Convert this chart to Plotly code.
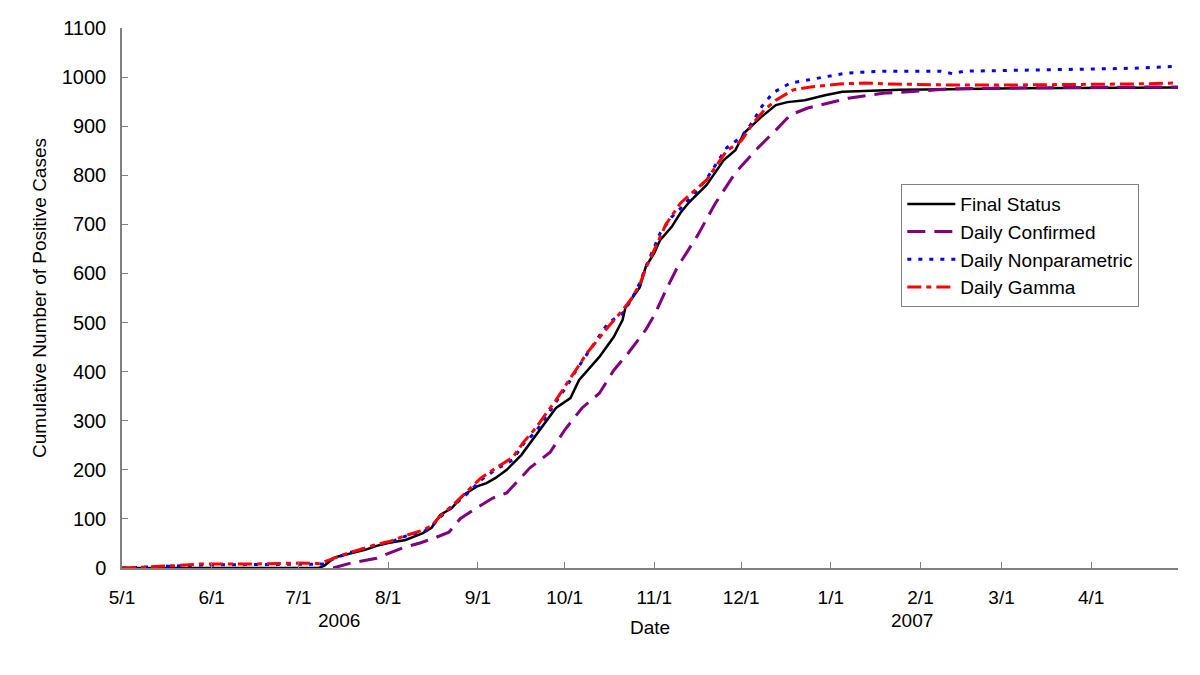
import plotly.graph_objects as go

# Final Status
final_dates = ["2006-05-01", "2006-07-08", "2006-07-10", "2006-07-13", "2006-07-15", "2006-07-19",
               "2006-07-24", "2006-07-28", "2006-08-01", "2006-08-07", "2006-08-13", "2006-08-16",
               "2006-08-19", "2006-08-23", "2006-08-27", "2006-09-01", "2006-09-04", "2006-09-07",
               "2006-09-11", "2006-09-16", "2006-09-21", "2006-09-26", "2006-09-28", "2006-10-03",
               "2006-10-06", "2006-10-13", "2006-10-18", "2006-10-21", "2006-10-22", "2006-10-27",
               "2006-10-29", "2006-11-01", "2006-11-03", "2006-11-07", "2006-11-10", "2006-11-13",
               "2006-11-19", "2006-11-25", "2006-11-29", "2006-12-02", "2006-12-08", "2006-12-13",
               "2006-12-17", "2006-12-23", "2006-12-30", "2007-01-05", "2007-01-13", "2007-01-25",
               "2007-02-11", "2007-02-28", "2007-05-01"]
final_vals = [0, 0, 5, 20, 24, 30,
              37, 45, 51, 57, 71, 82,
              108, 122, 149, 167, 173, 183,
              200, 230, 271, 312, 326, 346,
              383, 430, 471, 505, 530, 572,
              613, 642, 668, 695, 723, 745,
              780, 831, 851, 886, 919, 943,
              949, 953, 963, 970, 972, 974,
              975, 977, 979]

# Daily Confirmed
conf_dates = ["2006-07-13", "2006-07-19", "2006-07-28", "2006-07-31", "2006-08-06", "2006-08-12",
              "2006-08-17", "2006-08-22", "2006-08-26", "2006-09-01", "2006-09-06", "2006-09-11",
              "2006-09-15", "2006-09-19", "2006-09-26", "2006-10-01", "2006-10-07", "2006-10-13",
              "2006-10-18", "2006-10-23", "2006-10-29", "2006-11-01", "2006-11-05", "2006-11-09",
              "2006-11-16", "2006-11-22", "2006-11-29", "2006-12-06", "2006-12-13", "2006-12-18",
              "2006-12-24", "2007-01-01", "2007-01-07", "2007-01-14", "2007-01-19", "2007-01-28",
              "2007-02-11", "2007-03-06", "2007-05-01"]
conf_vals = [0, 10, 20, 27, 41, 51,
             61, 73, 101, 124, 142, 153,
             179, 204, 236, 281, 326, 356,
             403, 438, 485, 515, 566, 613,
             678, 742, 805, 851, 892, 923,
             937, 949, 957, 963, 967, 970,
             976, 978, 980]

# Daily Nonparametric
nonp_dates = ["2006-05-01", "2006-05-10", "2006-05-20", "2006-05-28", "2006-06-15", "2006-07-05",
              "2006-07-10", "2006-07-12", "2006-07-18", "2006-07-28", "2006-08-02", "2006-08-07",
              "2006-08-13", "2006-08-16", "2006-08-19", "2006-08-23", "2006-08-29", "2006-09-02",
              "2006-09-07", "2006-09-13", "2006-09-17", "2006-09-21", "2006-09-25", "2006-09-28",
              "2006-10-02", "2006-10-05", "2006-10-09", "2006-10-16", "2006-10-21", "2006-10-24",
              "2006-10-27", "2006-10-29", "2006-11-01", "2006-11-03", "2006-11-07", "2006-11-10",
              "2006-11-15", "2006-11-19", "2006-11-26", "2006-12-01", "2006-12-05", "2006-12-08",
              "2006-12-12", "2006-12-18", "2006-12-24", "2006-12-31", "2007-01-06", "2007-01-12",
              "2007-01-19", "2007-02-08", "2007-02-12", "2007-02-16", "2007-03-06", "2007-04-16",
              "2007-05-01"]
nonp_vals = [0, 2, 5, 6, 7, 7,
             8, 16, 30, 47, 53, 65,
             73, 84, 104, 124, 155, 179,
             200, 220, 255, 277, 312, 338,
             373, 403, 438, 499, 519, 546,
             581, 613, 654, 682, 715, 732,
             764, 792, 856, 878, 909, 939,
             968, 988, 994, 1002, 1008, 1010,
             1012, 1012, 1007, 1012, 1014, 1018,
             1022]

# Daily Gamma
gamma_dates = ["2006-05-01", "2006-05-10", "2006-05-20", "2006-05-28", "2006-06-15", "2006-07-01",
               "2006-07-08", "2006-07-12", "2006-07-18", "2006-07-28", "2006-08-02", "2006-08-07",
               "2006-08-13", "2006-08-16", "2006-08-19", "2006-08-23", "2006-08-29", "2006-09-02",
               "2006-09-07", "2006-09-13", "2006-09-17", "2006-09-21", "2006-09-25", "2006-09-28",
               "2006-10-02", "2006-10-05", "2006-10-09", "2006-10-16", "2006-10-21", "2006-10-24",
               "2006-10-27", "2006-10-29", "2006-11-01", "2006-11-05", "2006-11-10", "2006-11-15",
               "2006-11-19", "2006-11-26", "2006-12-01", "2006-12-05", "2006-12-09", "2006-12-13",
               "2006-12-19", "2006-12-25", "2007-01-04", "2007-01-13", "2007-01-20", "2007-02-11",
               "2007-03-06", "2007-04-16", "2007-05-01"]
gamma_vals = [0, 2, 5, 8, 8, 10,
              9, 17, 30, 48, 55, 66,
              77, 86, 106, 126, 160, 183,
              203, 225, 258, 285, 318, 342,
              378, 405, 440, 491, 525, 548,
              578, 610, 650, 700, 743, 770,
              790, 850, 870, 905, 933, 953,
              974, 980, 986, 988, 986, 984,
              984, 986, 988]

tick_vals = ["2006-05-01", "2006-06-01", "2006-07-01", "2006-08-01", "2006-09-01", "2006-10-01",
             "2006-11-01", "2006-12-01", "2007-01-01", "2007-02-01", "2007-03-01", "2007-04-01",
             "2007-05-01"]
tick_text = ["5/1", "6/1", "7/1", "8/1", "9/1", "10/1", "11/1", "12/1", "1/1", "2/1", "3/1", "4/1", ""]

FONT = "Liberation Sans, Arial, sans-serif"

fig = go.Figure()
fig.add_trace(go.Scatter(x=final_dates, y=final_vals, mode="lines", name="Final Status",
                         line=dict(color="black", width=2.5)))
fig.add_trace(go.Scatter(x=conf_dates, y=conf_vals, mode="lines", name="Daily Confirmed",
                         line=dict(color="#800080", width=3, dash="18px,9px")))
fig.add_trace(go.Scatter(x=nonp_dates, y=nonp_vals, mode="lines", name="Daily Nonparametric",
                         line=dict(color="#0000ff", width=3, dash="4px,7px")))
fig.add_trace(go.Scatter(x=gamma_dates, y=gamma_vals, mode="lines", name="Daily Gamma",
                         line=dict(color="#ff0000", width=3, dash="14px,5px,5px,5px")))

# the page body adds an 8px offset, so margins are shifted to land the axes where the original sits
fig.update_layout(
    width=1200, height=675,
    margin=dict(l=114, r=30, t=20, b=115),
    paper_bgcolor="white", plot_bgcolor="white",
    font=dict(family=FONT, size=19, color="black"),
    showlegend=True,
    legend=dict(x=0.738, y=0.711, xanchor="left", yanchor="top",
                bordercolor="#808080", borderwidth=1, bgcolor="white",
                font=dict(size=19), tracegroupgap=0, itemwidth=48),
    xaxis=dict(type="date", range=["2006-05-01", "2007-05-01"], automargin=False,
               tickmode="array", tickvals=tick_vals, ticktext=tick_text,
               tickfont=dict(size=19),
               ticks="inside", ticklen=6, tickcolor="#808080",
               showline=True, linecolor="#808080", linewidth=1.5,
               showgrid=False, zeroline=False, ticklabelstandoff=11,
               title=dict(text="Date", standoff=14, font=dict(size=19))),
    yaxis=dict(range=[0, 1100], dtick=100, automargin=False,
               tickfont=dict(size=20),
               ticks="inside", ticklen=6, tickcolor="#808080",
               showline=True, linecolor="#808080", linewidth=1.5,
               showgrid=False, zeroline=False, ticklabelstandoff=10,
               title=dict(text="Cumulative Number of Positive Cases", standoff=10,
                          font=dict(size=19))),
    annotations=[
        dict(x="2006-07-15", y=-0.097, xref="x", yref="paper", yanchor="middle", text="2006",
             showarrow=False, font=dict(size=19)),
        dict(x="2007-01-29", y=-0.097, xref="x", yref="paper", yanchor="middle", text="2007",
             showarrow=False, font=dict(size=19)),
    ],
)

fig.write_html("out.html")
